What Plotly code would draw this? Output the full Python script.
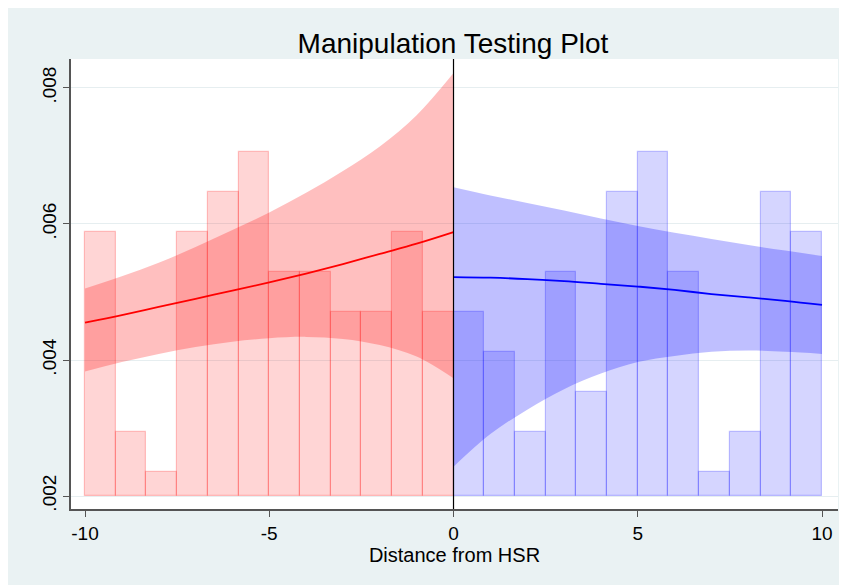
import numpy as np
import plotly.graph_objects as go

# ---- data ----
hist_left = [0.00588, 0.00294, 0.00235, 0.00588, 0.00647, 0.00706,
             0.00529, 0.00529, 0.00471, 0.00471, 0.00588, 0.00471]
hist_right = [0.00471, 0.00412, 0.00294, 0.00529, 0.00353, 0.00647,
              0.00706, 0.00529, 0.00235, 0.00294, 0.00647, 0.00588]
hist_base = 0.002

x_left = [-10, -9, -8, -7, -6, -5, -4, -3, -2, -1, 0]
fit_left = [0.00455, 0.00466, 0.00478, 0.00490, 0.00502, 0.00514,
            0.00527, 0.00541, 0.00556, 0.00571, 0.00588]
ci_left_hi = [0.00505, 0.00523, 0.00543, 0.00566, 0.00591, 0.00617,
              0.00646, 0.00678, 0.00714, 0.00760, 0.00822]
ci_left_lo = [0.00383, 0.00397, 0.00409, 0.00419, 0.00427, 0.00432,
              0.00434, 0.00431, 0.00422, 0.00405, 0.00373]

x_right = [0, 1, 2, 3, 4, 5, 6, 7, 8, 9, 10]
fit_right = [0.00522, 0.00521, 0.00519, 0.00516, 0.00512, 0.00508,
             0.00503, 0.00497, 0.00492, 0.00487, 0.00481]
ci_right_hi = [0.00654, 0.00642, 0.00631, 0.00620, 0.00608, 0.00597,
               0.00587, 0.00578, 0.00569, 0.00561, 0.00553]
ci_right_lo = [0.00243, 0.00291, 0.00327, 0.00357, 0.00380, 0.00397,
               0.00406, 0.00412, 0.00414, 0.00412, 0.00409]

x_ticks = [-10, -5, 0, 5, 10]
x_tick_labels = ["-10", "-5", "0", "5", "10"]
y_ticks = [0.002, 0.004, 0.006, 0.008]
y_tick_labels = [".002", ".004", ".006", ".008"]

# ---- figure ----
fig = go.Figure()

def add_hist(vals, lo, hi, fill, line):
    edges = np.linspace(lo, hi, len(vals) + 1)
    centers = (edges[:-1] + edges[1:]) / 2
    width = edges[1] - edges[0]
    fig.add_trace(go.Bar(
        x=centers, y=np.array(vals) - hist_base, base=hist_base,
        width=width, marker=dict(color=fill, line=dict(color=line, width=1.2)),
        showlegend=False, hoverinfo="skip"))

add_hist(hist_left, -10, 0, "rgba(255,0,0,0.165)", "rgba(255,0,0,0.22)")
add_hist(hist_right, 0, 10, "rgba(0,0,255,0.165)", "rgba(0,0,255,0.22)")

def add_band(xs, lo, hi, color):
    fig.add_trace(go.Scatter(x=xs, y=lo, mode="lines", line=dict(width=0, shape="spline"),
                             showlegend=False, hoverinfo="skip"))
    fig.add_trace(go.Scatter(x=xs, y=hi, mode="lines", line=dict(width=0, shape="spline"),
                             fill="tonexty", fillcolor=color,
                             showlegend=False, hoverinfo="skip"))

add_band(x_left, ci_left_lo, ci_left_hi, "rgba(255,0,0,0.25)")
add_band(x_right, ci_right_lo, ci_right_hi, "rgba(0,0,255,0.25)")

fig.add_trace(go.Scatter(x=x_left, y=fit_left, mode="lines",
                         line=dict(color="#ff0000", width=1.8, shape="spline"),
                         showlegend=False))
fig.add_trace(go.Scatter(x=x_right, y=fit_right, mode="lines",
                         line=dict(color="#0000ff", width=1.8, shape="spline"),
                         showlegend=False))

fig.add_shape(type="line", x0=0, x1=0, y0=0, y1=1, yref="paper", xref="x",
              line=dict(color="black", width=1.2))

fig.update_layout(
    width=847, height=585,
    margin=dict(l=63, r=17, t=51, b=84),
    paper_bgcolor="#eaf2f3",
    plot_bgcolor="white",
    barmode="overlay",
    bargap=0,
    font=dict(family="Arial, Liberation Sans, sans-serif", color="black", size=16),
    title=dict(text="Manipulation Testing Plot", x=0.5254, xanchor="center",
               y=0.940, yanchor="middle", font=dict(size=28, color="black")),
    xaxis=dict(range=[-10.38, 10.434], tickvals=x_ticks, ticktext=x_tick_labels,
               showgrid=False, zeroline=False,
               showline=True, linecolor="#555555", linewidth=1.5,
               ticks="outside", ticklen=6, tickcolor="#555555",
               title=dict(text="Distance from HSR", font=dict(size=20), standoff=2),
               tickfont=dict(size=19)),
    yaxis=dict(range=[0.001809, 0.008426], tickvals=y_ticks, ticktext=y_tick_labels,
               tickangle=-90, showgrid=True, gridcolor="#e6eef0", gridwidth=1,
               zeroline=False, showline=True, linecolor="#555555", linewidth=1.5,
               ticks="outside", ticklen=6, tickcolor="#555555",
               tickfont=dict(size=19)),
)

fig.write_html("out.html")
